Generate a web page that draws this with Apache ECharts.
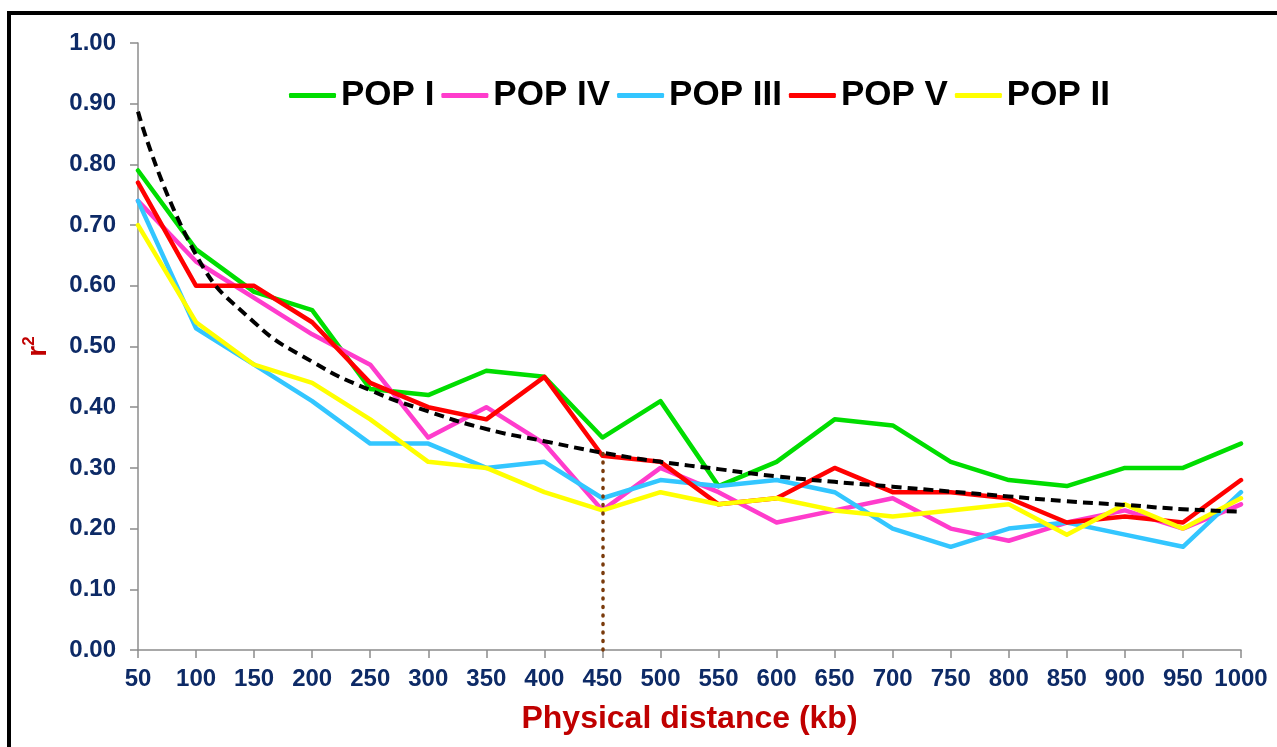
<!DOCTYPE html>
<html>
<head>
<meta charset="utf-8">
<script src="https://cdn.jsdelivr.net/npm/echarts@6/dist/echarts.min.js"></script>
<style>
html,body{margin:0;padding:0;background:#fff;overflow:hidden;}
#chart{width:1277px;height:747px;}
</style>
</head>
<body>
<div id="chart"></div>
<script>
const categories = ['50','100','150','200','250','300','350','400','450','500','550','600','650','700','750','800','850','900','950','1000'];
const yTicks = ['0.00','0.10','0.20','0.30','0.40','0.50','0.60','0.70','0.80','0.90','1.00'];
const popI   = [0.79,0.66,0.59,0.56,0.43,0.42,0.46,0.45,0.35,0.41,0.27,0.31,0.38,0.37,0.31,0.28,0.27,0.30,0.30,0.34];
const popIV  = [0.74,0.64,0.58,0.52,0.47,0.35,0.40,0.34,0.23,0.30,0.26,0.21,0.23,0.25,0.20,0.18,0.21,0.23,0.20,0.24];
const popIII = [0.74,0.53,0.47,0.41,0.34,0.34,0.30,0.31,0.25,0.28,0.27,0.28,0.26,0.20,0.17,0.20,0.21,0.19,0.17,0.26];
const popV   = [0.77,0.60,0.60,0.54,0.44,0.40,0.38,0.45,0.32,0.31,0.24,0.25,0.30,0.26,0.26,0.25,0.21,0.22,0.21,0.28];
const popII  = [0.70,0.54,0.47,0.44,0.38,0.31,0.30,0.26,0.23,0.26,0.24,0.25,0.23,0.22,0.23,0.24,0.19,0.24,0.20,0.25];
const trend  = [0.887,0.651,0.54,0.475,0.428,0.393,0.364,0.344,0.325,0.31,0.298,0.286,0.277,0.269,0.261,0.253,0.245,0.239,0.232,0.228];
const markerIndex = 8;

const FONT = "'Liberation Sans', Arial, sans-serif";
const chart = echarts.init(document.getElementById('chart'), null, {renderer: 'canvas', width: 1277, height: 747});

function line(name, data, color) {
  return {
    name: name, type: 'line', data: data, symbol: 'none', showSymbol: false,
    lineStyle: {color: color, width: 4.5, cap: 'round', join: 'round'},
    itemStyle: {color: color},
    animation: false
  };
}

chart.setOption({
  animation: false,
  backgroundColor: '#ffffff',
  grid: {left: 138, width: 1103, top: 43, height: 607, containLabel: false},
  graphic: [{
    type: 'rect', silent: true, z: 100,
    shape: {x: 9, y: 13, width: 1400, height: 900},
    style: {fill: 'none', stroke: '#000', lineWidth: 4}
  }],
  legend: {
    data: ['POP I','POP IV','POP III','POP V','POP II'],
    left: 284, top: 73,
    icon: 'roundRect', itemWidth: 47, itemHeight: 5, itemGap: 7,
    textStyle: {fontFamily: FONT, fontWeight: 'bold', fontSize: 35, color: '#000'}
  },
  xAxis: {
    type: 'category', data: categories, boundaryGap: false,
    name: 'Physical distance (kb)', nameLocation: 'middle', nameGap: 53,
    nameTextStyle: {fontFamily: FONT, fontWeight: 'bold', fontSize: 32, color: '#c00000'},
    axisLine: {lineStyle: {color: '#8c8c8c', width: 1.5}},
    axisTick: {show: true, alignWithLabel: true, length: 8, lineStyle: {color: '#8c8c8c', width: 1.5}},
    axisLabel: {fontFamily: FONT, fontWeight: 'bold', fontSize: 24, color: '#0d2a66', margin: 17, interval: 0},
    splitLine: {show: false}
  },
  yAxis: {
    type: 'value', min: 0, max: 1, interval: 0.1,
    name: '{a|r}{b|2}', nameLocation: 'middle', nameGap: 86, nameRotate: 90,
    nameTextStyle: {
      rich: {
        a: {fontFamily: FONT, fontWeight: 'bold', fontSize: 28, color: '#c00000', verticalAlign: 'bottom'},
        b: {fontFamily: FONT, fontWeight: 'bold', fontSize: 17, color: '#c00000', verticalAlign: 'top', padding: [0,0,14,0]}
      }
    },
    axisLine: {show: true, lineStyle: {color: '#8c8c8c', width: 1.5}},
    axisTick: {show: true, length: 8, lineStyle: {color: '#8c8c8c', width: 1.5}},
    axisLabel: {fontFamily: FONT, fontWeight: 'bold', fontSize: 24, color: '#0d2a66', margin: 22,
      formatter: function (v) { return yTicks[Math.round(v * 10)]; }},
    splitLine: {show: false}
  },
  series: [
    line('POP I', popI, '#00dd00'),
    line('POP IV', popIV, '#ff3ccc'),
    line('POP III', popIII, '#33c6ff'),
    line('POP V', popV, '#ff0000'),
    line('POP II', popII, '#ffff00'),
    {
      name: 'Trend', type: 'line', data: trend, symbol: 'none', smooth: true,
      lineStyle: {color: '#000', width: 4, type: [10, 6]},
      z: 3,
      markLine: {
        silent: true, symbol: ['none','none'], label: {show: false},
        lineStyle: {color: '#7a3b0c', width: 3.5, type: [1, 7.5], cap: 'round'},
        data: [[{coord: [categories[markerIndex], 0]}, {coord: [categories[markerIndex], trend[markerIndex]]}]]
      }
    }
  ]
});
</script>
</body>
</html>
